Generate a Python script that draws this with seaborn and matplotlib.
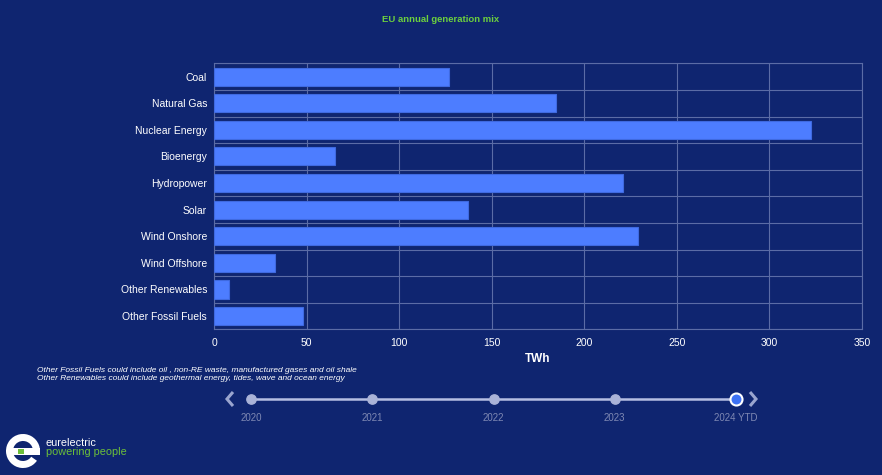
import numpy as np
import pandas as pd
import matplotlib
matplotlib.use('Agg')
import matplotlib.pyplot as plt
from matplotlib.patches import Wedge, Rectangle
import seaborn as sns

# 数据
categories = ['Coal', 'Natural Gas', 'Nuclear Energy', 'Bioenergy', 'Hydropower',
              'Solar', 'Wind Onshore', 'Wind Offshore', 'Other Renewables', 'Other Fossil Fuels']
generation_twh = [126.7, 184.7, 322.7, 65.5, 220.7, 137.0, 228.8, 32.9, 8.1, 47.9]
x_ticks = [0, 50, 100, 150, 200, 250, 300, 350]
years = ['2020', '2021', '2022', '2023', '2024 YTD']
notes = ['Other Fossil Fuels could include oil , non-RE waste, manufactured gases and oil shale',
         'Other Renewables could include geothermal energy, tides, wave and ocean energy']

BG = '#0f2570'
BAR = '#4d7dff'
GRID = '#5b6ca6'
TEXT = '#ffffff'

sns.set_theme(style='dark')
plt.rcParams['font.family'] = ['Liberation Sans', 'DejaVu Sans']

df = pd.DataFrame({'category': categories, 'TWh': generation_twh})

fig = plt.figure(figsize=(8.82, 4.75), dpi=100, facecolor=BG)
ax = fig.add_axes([214 / 882, 1 - 329.4 / 475, 648 / 882, 266.1 / 475])
ax.set_facecolor(BG)

sns.barplot(data=df, x='TWh', y='category', orient='h', color=BAR, saturation=1,
            width=0.68, edgecolor='#3f6ae0', linewidth=0.8, ax=ax, zorder=3)

ax.set_xlim(0, 350)
ax.set_ylim(len(categories) - 0.5, -0.5)
ax.set_xticks(x_ticks)
ax.set_xticklabels([str(t) for t in x_ticks], color=TEXT, fontsize=7.5)
ax.set_yticks(range(len(categories)))
ax.set_yticklabels(categories, color=TEXT, fontsize=7.5)
ax.set_yticks(np.arange(-0.5, len(categories), 1), minor=True)
ax.tick_params(axis='y', which='major', length=0, pad=5)
ax.tick_params(axis='y', which='minor', length=4, color=GRID, width=0.8)
ax.tick_params(axis='x', which='major', length=3, color=GRID, width=0.8, pad=3)
ax.grid(True, axis='x', which='major', color=GRID, linewidth=0.8, zorder=0)
ax.grid(True, axis='y', which='minor', color=GRID, linewidth=0.8, zorder=0)
ax.grid(False, axis='y', which='major')
for side in ['left', 'right', 'top', 'bottom']:
    ax.spines[side].set_visible(True)
    ax.spines[side].set_color(GRID)
    ax.spines[side].set_linewidth(0.8)
ax.set_ylabel('')
ax.set_xlabel('TWh', color=TEXT, fontsize=8.5, fontweight='bold', labelpad=4)

# 标题
fig.text(0.5, 1 - 19 / 475, 'EU annual generation mix', color='#6cd03e', fontsize=6.8,
         fontweight='bold', ha='center', va='center')

# 注释、时间轴和标志
ov = fig.add_axes([0, 0, 1, 1], facecolor='none')
ov.set_xlim(0, 882)
ov.set_ylim(475, 0)
ov.axis('off')

ov.text(37, 370, notes[0], color=TEXT, fontsize=6, style='italic', va='center')
ov.text(37, 378, notes[1], color=TEXT, fontsize=6, style='italic', va='center')

year_x = np.linspace(251, 736, len(years))
ov.plot([year_x[0], year_x[-1]], [399, 399], color='#b6bfe3', linewidth=1.8, zorder=1)
for i, (xx, yr) in enumerate(zip(year_x, years)):
    if i == len(years) - 1:
        ov.scatter([xx], [399], s=75, color='#3d72f5', edgecolor='white', linewidth=1.5, zorder=3)
    else:
        ov.scatter([xx], [399], s=45, color='#aab3d8', zorder=2)
    ov.text(xx, 418, yr, color='#7e88b3', fontsize=7, ha='center', va='center')
# 左右箭头
ov.plot([233, 227, 233], [392, 399, 406], color='#9aa5cf', linewidth=2.2,
        solid_capstyle='butt', solid_joinstyle='miter')
ov.plot([750, 756, 750], [392, 399, 406], color='#9aa5cf', linewidth=2.2,
        solid_capstyle='butt', solid_joinstyle='miter')

# eurelectric 标志
ov.add_patch(Wedge((23, 451), 17, 35, 360, width=7, facecolor='white', edgecolor='none'))
ov.add_patch(Rectangle((13, 448), 27, 7, facecolor='white', edgecolor='none'))
ov.add_patch(Rectangle((18, 449), 6, 5, facecolor='#6cbf3a', edgecolor='none'))
ov.text(46, 443, 'eurelectric', color=TEXT, fontsize=7.8, va='center')
ov.text(46, 452, 'powering people', color='#6cbf3a', fontsize=7.8, va='center')

fig.savefig('out.png', dpi=100, facecolor=BG)
